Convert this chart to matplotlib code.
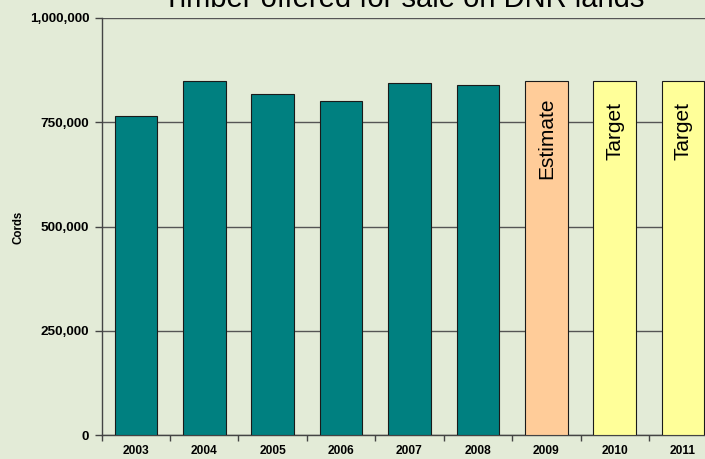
import matplotlib
matplotlib.use("Agg")
import matplotlib.pyplot as plt
import numpy as np
from matplotlib.ticker import FuncFormatter, FixedLocator

years = ["2003", "2004", "2005", "2006", "2007", "2008", "2009", "2010", "2011"]
cords = [765000, 850000, 817000, 802000, 845000, 840000, 850000, 850000, 850000]
bar_colors = ["#008080"] * 6 + ["#FFCC99", "#FFFF99", "#FFFF99"]
bar_notes = ["", "", "", "", "", "", "Estimate", "Target", "Target"]
note_tops = [0, 0, 0, 0, 0, 0, 810000, 798000, 798000]
yticks = [0, 250000, 500000, 750000, 1000000]

bg = "#E3EBD7"
plt.rcParams['font.family'] = ['Liberation Sans', 'DejaVu Sans']

fig = plt.figure(figsize=(7.05, 4.59), dpi=100, facecolor=bg)
ax = fig.add_axes([101.7/705, 1-435/459, 615.6/705, 417/459])
ax.set_facecolor(bg)

x = np.arange(len(years))
ax.bar(x, cords, width=0.625, color=bar_colors, edgecolor="#1a1a1a", linewidth=0.8, zorder=3)

for xi, note, top in zip(x, bar_notes, note_tops):
    if note:
        ax.text(xi, top, note, rotation=90, ha="center", va="top", fontsize=15, color="black", zorder=4)

ax.set_xlim(-0.5, len(years) - 0.5)
ax.set_ylim(0, 1000000)
ax.set_yticks(yticks)
ax.yaxis.set_major_formatter(FuncFormatter(lambda v, p: f"{int(v):,}"))
ax.yaxis.grid(True, color="#555555", linewidth=1.0, zorder=1)
ax.set_axisbelow(True)

ax.set_xticks(x)
ax.set_xticklabels(years, fontsize=8.6, fontweight="bold")
ax.xaxis.set_minor_locator(FixedLocator(np.arange(-0.5, len(years), 1.0)))
ax.tick_params(axis="x", which="major", length=0, pad=7)
ax.tick_params(axis="x", which="minor", length=4, width=1, color="#444444", direction="out")
ax.tick_params(axis="y", length=5, width=1, color="#444444", direction="out", pad=4)
for lbl in ax.get_yticklabels():
    lbl.set_fontsize(9.7)
    lbl.set_fontweight("bold")

for s in ["top", "right"]:
    ax.spines[s].set_visible(False)
for s in ["left", "bottom"]:
    ax.spines[s].set_color("#444444")
    ax.spines[s].set_linewidth(1.0)

fig.text(18/705, 1-227/459, "Cords", rotation=90, ha="center", va="center", fontsize=8.3, fontweight="bold")
fig.text(404/705, 1-6.7/459, "Timber offered for sale on DNR lands", ha="center", va="baseline", fontsize=21)

fig.savefig("out.png", dpi=100, facecolor=bg)
